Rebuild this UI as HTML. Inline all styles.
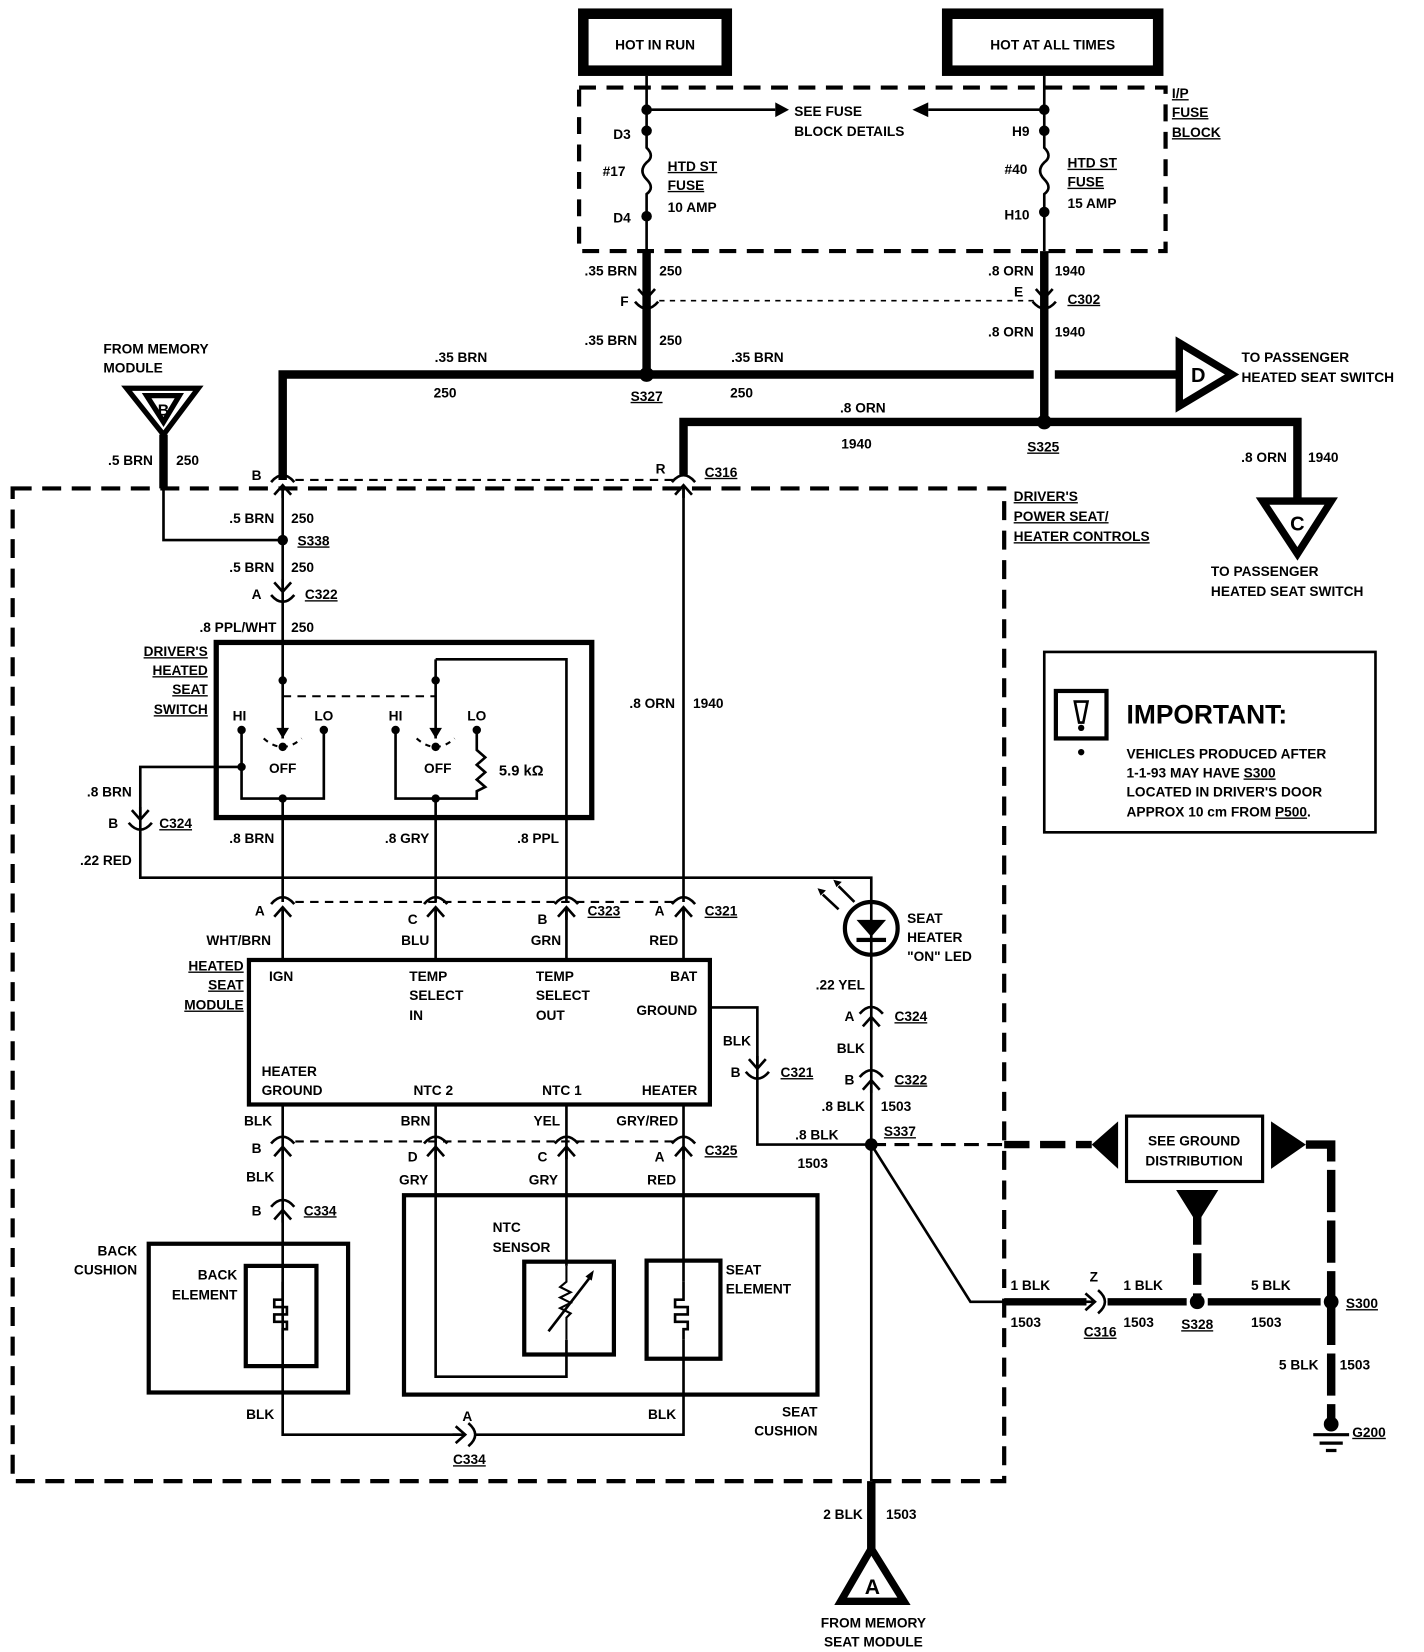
<!DOCTYPE html>
<html><head><meta charset="utf-8"><style>
html,body{margin:0;padding:0;background:#fff}
svg{display:block}
text{font-family:"Liberation Sans",sans-serif;font-weight:bold;font-size:13px;fill:#000}
.u{text-decoration:underline}
</style></head><body>
<svg width="1424" height="1652" viewBox="0 0 1350 1566" preserveAspectRatio="none" xmlns="http://www.w3.org/2000/svg">
<defs>
<g id="cn" fill="none" stroke="#000" stroke-width="2.5">
<path d="M-11,-1 Q0,-14 11,-1"/><path d="M-8,11 L0,2 L8,11"/><path d="M0,2 V14"/>
</g>
</defs>
<g fill="none" stroke="#000">
<rect x="553" y="13" width="136" height="54" stroke-width="10"/>
<rect x="898" y="13" width="200" height="54" stroke-width="10"/>
<rect x="549" y="83" width="556" height="155" stroke-width="4" stroke-dasharray="16,10"/>
<path d="M613,72 V140 q8,8 0,14 q-8,8 0,16 q8,8 0,14 V238" stroke-width="2.5"/>
<path d="M990,72 V140 q8,8 0,14 q-8,8 0,16 q8,8 0,14 V238" stroke-width="2.5"/>
<path d="M613,104 H735 M990,104 H880" stroke-width="2.5"/>
<path d="M613,238 V355 M990,238 V400 M268,455 V355 H980 M1000,355 H1115" stroke-width="8"/>
<path d="M648,450 V400 H1230 V475" stroke-width="8"/>
<path d="M155,412 V463" stroke-width="8"/>
<path d="M625,285 H980" stroke-width="1.5" stroke-dasharray="5,5"/>
<rect x="12" y="463" width="940" height="941" stroke-width="4" stroke-dasharray="18,10"/>
<path d="M280,455 H638" stroke-width="2" stroke-dasharray="8,6"/>
<g stroke-width="2.5">
<path d="M155,463 V512 H268"/>
<path d="M268,463 V700 M648,460 V855"/>
<path d="M413,625 H537 V855 M413,625 V700"/>
<path d="M229,692 V757 H307 V692 M268,757 V855 M229,727 H133 V832 H826 V855"/>
<path d="M375,692 V757 H452 V750 l8,-4 -8,-7 8,-7 -8,-7 8,-7 -8,-7 V692 M413,757 V855"/>
<path d="M268,860 V910 M413,860 V910 M537,860 V910 M648,860 V910"/>
<path d="M673,955 H718 V1085 H826"/>
<path d="M826,855 V1404"/>
<path d="M826,1085 L920,1234 H1030"/>
<path d="M268,1047 V1295 M413,1047 V1305 H537 V1270 M537,1047 V1200 M648,1047 V1215 M648,1270 V1360 H450 M436,1360 H268 V1295"/>
</g>
<path d="M268,660 H413" stroke-width="2" stroke-dasharray="8,6"/>
<path d="M280,855 H640" stroke-width="2" stroke-dasharray="8,6"/>
<path d="M280,1082 H640" stroke-width="2" stroke-dasharray="8,6"/>
<path d="M250,700 Q268,716 286,700 M395,700 Q413,716 431,700" stroke-width="2" stroke-dasharray="5,5"/>
<rect x="205" y="609" width="356" height="166" stroke-width="5"/>
<rect x="236" y="910" width="437" height="137" stroke-width="4"/>
<rect x="141" y="1179" width="189" height="141" stroke-width="4"/>
<rect x="233" y="1200" width="67" height="95" stroke-width="4"/>
<rect x="383" y="1133" width="392" height="189" stroke-width="4"/>
<rect x="497" y="1196" width="85" height="88" stroke-width="4"/>
<rect x="613" y="1195" width="70" height="93" stroke-width="4"/>
<path d="M268,1215 V1232 h-8 v7 h12 v7 h-12 v7 h12 v7 h-4 V1270" stroke-width="2.5"/>
<path d="M648,1215 V1232 h-8 v7 h12 v7 h-12 v7 h12 v7 h-4 V1270" stroke-width="2.5"/>
<path d="M520,1262 L560,1210" stroke-width="2.5"/>
<path d="M537,1200 V1215 l-6,5 10,5 -10,5 10,5 -10,5 10,5 -4,4 V1270" stroke-width="2"/>
<circle cx="826" cy="880" r="25" stroke-width="4"/>
<path d="M780,848 L795,862 M795,840 L810,855" stroke-width="2.5"/>
<path d="M826,1085 H952" stroke-width="3" stroke-dasharray="14,8"/>
<path d="M952,1085 H1035" stroke-width="7" stroke-dasharray="24,10"/>
<rect x="1068" y="1058" width="129" height="62" stroke-width="3"/>
<path d="M1238,1085 H1262 V1235 M1262,1235 V1345" stroke-width="8" stroke-dasharray="40,8"/>
<path d="M1135,1150 V1234" stroke-width="8" stroke-dasharray="30,8"/>
<path d="M952,1234 H1030 M1050,1234 H1125 M1145,1234 H1252" stroke-width="7"/>
<path d="M826,1404 V1470" stroke-width="8"/>
<path d="M1245,1360 H1279 M1251,1368 H1273 M1257,1375 H1267" stroke-width="3"/>
<rect x="990" y="618" width="314" height="171" stroke-width="2.5"/>
<rect x="1001" y="655" width="48" height="45" stroke-width="4"/>
<path d="M1019,665 h12 l-4,20 h-4 z" stroke-width="2.5"/>
<path d="M120,368 H188 L155,412 Z M139,375 H170 L155,400 Z" stroke-width="5"/>
<path d="M1118,325 L1168,355 L1118,385 Z" stroke-width="7"/>
<path d="M1197,475 H1262 L1230,525 Z" stroke-width="7"/>
<path d="M826,1468 L797,1518 H857 Z" stroke-width="7"/>
</g>
<g fill="#000">
<path d="M735,97 L748,104 L735,111 Z M880,97 L865,104 L880,111 Z"/>
<path d="M1060,1063 V1108 L1035,1085 Z M1205,1063 V1108 L1238,1085 Z M1115,1128 H1155 L1135,1160 Z"/>
<path d="M812,872 H840 L826,888 Z"/><rect x="812" y="889" width="28" height="4"/>
<path d="M775,842 l8,2 -5,5 z M790,834 l8,2 -5,5 z"/>
<circle cx="613" cy="104" r="5"/><circle cx="613" cy="124" r="5"/><circle cx="613" cy="205" r="5"/>
<circle cx="990" cy="104" r="5"/><circle cx="990" cy="124" r="5"/><circle cx="990" cy="201" r="5"/>
<circle cx="613" cy="355" r="7"/><circle cx="990" cy="400" r="7"/>
<circle cx="268" cy="512" r="5"/>
<circle cx="229" cy="692" r="4"/><circle cx="307" cy="692" r="4"/><circle cx="268" cy="708" r="4"/><circle cx="229" cy="727" r="4"/><circle cx="268" cy="757" r="4"/>
<circle cx="375" cy="692" r="4"/><circle cx="452" cy="692" r="4"/><circle cx="413" cy="708" r="4"/><circle cx="413" cy="757" r="4"/>
<circle cx="268" cy="645" r="4"/><circle cx="413" cy="645" r="4"/>
<path d="M262,690 l6,10 6,-10 z M407,690 l6,10 6,-10 z"/>
<circle cx="826" cy="1085" r="6"/><circle cx="1135" cy="1234" r="7"/><circle cx="1262" cy="1234" r="7"/><circle cx="1262" cy="1350" r="7"/>
<circle cx="1025" cy="713" r="3"/><circle cx="1025" cy="690" r="3"/>
<path d="M555,1210 l8,-6 -2,10 z"/>
</g>
<use href="#cn" x="613" y="285" transform="rotate(180 613 285)"/>
<use href="#cn" x="990" y="285" transform="rotate(180 990 285)"/>
<use href="#cn" x="268" y="458"/><use href="#cn" x="648" y="458"/>
<use href="#cn" x="268" y="563" transform="rotate(180 268 563)"/>
<use href="#cn" x="133" y="779" transform="rotate(180 133 779)"/>
<use href="#cn" x="268" y="858"/><use href="#cn" x="413" y="858"/><use href="#cn" x="537" y="858"/><use href="#cn" x="648" y="858"/>
<use href="#cn" x="826" y="962"/><use href="#cn" x="826" y="1022"/>
<use href="#cn" x="718" y="1015" transform="rotate(180 718 1015)"/>
<use href="#cn" x="268" y="1085"/><use href="#cn" x="413" y="1085"/><use href="#cn" x="537" y="1085"/><use href="#cn" x="648" y="1085"/>
<use href="#cn" x="268" y="1145"/>
<use href="#cn" x="443" y="1360" transform="rotate(90 443 1360)"/>
<use href="#cn" x="1040" y="1234" transform="rotate(90 1040 1234)"/>
<text x="621" y="47" text-anchor="middle">HOT IN RUN</text>
<text x="998" y="47" text-anchor="middle">HOT AT ALL TIMES</text>
<text x="753" y="110">SEE FUSE</text><text x="753" y="129">BLOCK DETAILS</text>
<text x="598" y="132" text-anchor="end">D3</text><text x="593" y="167" text-anchor="end">#17</text><text x="598" y="211" text-anchor="end">D4</text>
<text x="633" y="162" class="u">HTD ST</text><text x="633" y="180" class="u">FUSE</text><text x="633" y="201">10 AMP</text>
<text x="976" y="129" text-anchor="end">H9</text><text x="974" y="165" text-anchor="end">#40</text><text x="976" y="208" text-anchor="end">H10</text>
<text x="1012" y="159" class="u">HTD ST</text><text x="1012" y="177" class="u">FUSE</text><text x="1012" y="197">15 AMP</text>
<text x="1111" y="93" class="u">I/P</text><text x="1111" y="111" class="u">FUSE</text><text x="1111" y="130" class="u">BLOCK</text>
<text x="604" y="261" text-anchor="end">.35 BRN</text><text x="625" y="261">250</text>
<text x="596" y="290" text-anchor="end">F</text>
<text x="604" y="327" text-anchor="end">.35 BRN</text><text x="625" y="327">250</text>
<text x="980" y="261" text-anchor="end">.8 ORN</text><text x="1000" y="261">1940</text>
<text x="970" y="281" text-anchor="end">E</text><text x="1012" y="288" class="u">C302</text>
<text x="980" y="319" text-anchor="end">.8 ORN</text><text x="1000" y="319">1940</text>
<text x="98" y="335">FROM MEMORY</text><text x="98" y="353">MODULE</text>
<text x="155" y="394" text-anchor="middle" style="font-size:15px">B</text>
<text x="145" y="441" text-anchor="end">.5 BRN</text><text x="167" y="441">250</text>
<text x="437" y="343" text-anchor="middle">.35 BRN</text><text x="422" y="377" text-anchor="middle">250</text>
<text x="718" y="343" text-anchor="middle">.35 BRN</text><text x="703" y="377" text-anchor="middle">250</text>
<text x="613" y="380" text-anchor="middle" class="u">S327</text>
<text x="1136" y="362" text-anchor="middle" style="font-size:19px">D</text>
<text x="1177" y="343">TO PASSENGER</text><text x="1177" y="362">HEATED SEAT SWITCH</text>
<text x="818" y="391" text-anchor="middle">.8 ORN</text><text x="812" y="425" text-anchor="middle">1940</text>
<text x="989" y="428" text-anchor="middle" class="u">S325</text>
<text x="1220" y="438" text-anchor="end">.8 ORN</text><text x="1240" y="438">1940</text>
<text x="1230" y="503" text-anchor="middle" style="font-size:19px">C</text>
<text x="1148" y="546">TO PASSENGER</text><text x="1148" y="565">HEATED SEAT SWITCH</text>
<text x="248" y="455" text-anchor="end">B</text><text x="631" y="449" text-anchor="end">R</text><text x="668" y="452" class="u">C316</text>
<text x="961" y="475" class="u">DRIVER'S</text><text x="961" y="494" class="u">POWER SEAT/</text><text x="961" y="513" class="u">HEATER CONTROLS</text>
<text x="260" y="496" text-anchor="end">.5 BRN</text><text x="276" y="496">250</text><text x="282" y="517" class="u">S338</text>
<text x="260" y="542" text-anchor="end">.5 BRN</text><text x="276" y="542">250</text>
<text x="248" y="568" text-anchor="end">A</text><text x="289" y="568" class="u">C322</text>
<text x="262" y="599" text-anchor="end">.8 PPL/WHT</text><text x="276" y="599">250</text>
<text x="197" y="622" text-anchor="end" class="u">DRIVER'S</text><text x="197" y="640" text-anchor="end" class="u">HEATED</text><text x="197" y="658" text-anchor="end" class="u">SEAT</text><text x="197" y="677" text-anchor="end" class="u">SWITCH</text>
<text x="227" y="683" text-anchor="middle">HI</text><text x="307" y="683" text-anchor="middle">LO</text><text x="268" y="733" text-anchor="middle">OFF</text>
<text x="375" y="683" text-anchor="middle">HI</text><text x="452" y="683" text-anchor="middle">LO</text><text x="415" y="733" text-anchor="middle">OFF</text>
<text x="473" y="735" style="font-size:14px">5.9 kΩ</text>
<text x="125" y="755" text-anchor="end">.8 BRN</text><text x="112" y="785" text-anchor="end">B</text><text x="151" y="785" class="u">C324</text>
<text x="125" y="820" text-anchor="end">.22 RED</text>
<text x="260" y="799" text-anchor="end">.8 BRN</text><text x="407" y="799" text-anchor="end">.8 GRY</text><text x="530" y="799" text-anchor="end">.8 PPL</text>
<text x="640" y="671" text-anchor="end">.8 ORN</text><text x="657" y="671">1940</text>
<text x="251" y="868" text-anchor="end">A</text><text x="396" y="876" text-anchor="end">C</text><text x="519" y="876" text-anchor="end">B</text><text x="630" y="868" text-anchor="end">A</text>
<text x="557" y="868" class="u">C323</text><text x="668" y="868" class="u">C321</text>
<text x="257" y="896" text-anchor="end">WHT/BRN</text><text x="407" y="896" text-anchor="end">BLU</text><text x="532" y="896" text-anchor="end">GRN</text><text x="643" y="896" text-anchor="end">RED</text>
<text x="231" y="920" text-anchor="end" class="u">HEATED</text><text x="231" y="938" text-anchor="end" class="u">SEAT</text><text x="231" y="957" text-anchor="end" class="u">MODULE</text>
<text x="255" y="930">IGN</text>
<text x="388" y="930">TEMP</text><text x="388" y="948">SELECT</text><text x="388" y="967">IN</text>
<text x="508" y="930">TEMP</text><text x="508" y="948">SELECT</text><text x="508" y="967">OUT</text>
<text x="661" y="930" text-anchor="end">BAT</text><text x="661" y="962" text-anchor="end">GROUND</text>
<text x="248" y="1020">HEATER</text><text x="248" y="1038">GROUND</text>
<text x="392" y="1038">NTC 2</text><text x="514" y="1038">NTC 1</text><text x="661" y="1038" text-anchor="end">HEATER</text>
<text x="860" y="875">SEAT</text><text x="860" y="893">HEATER</text><text x="860" y="911">"ON" LED</text>
<text x="820" y="938" text-anchor="end">.22 YEL</text>
<text x="810" y="968" text-anchor="end">A</text><text x="848" y="968" class="u">C324</text>
<text x="820" y="998" text-anchor="end">BLK</text>
<text x="810" y="1028" text-anchor="end">B</text><text x="848" y="1028" class="u">C322</text>
<text x="820" y="1053" text-anchor="end">.8 BLK</text><text x="835" y="1053">1503</text>
<text x="795" y="1080" text-anchor="end">.8 BLK</text><text x="785" y="1107" text-anchor="end">1503</text><text x="838" y="1077" class="u">S337</text>
<text x="712" y="991" text-anchor="end">BLK</text><text x="702" y="1021" text-anchor="end">B</text><text x="740" y="1021" class="u">C321</text>
<text x="1132" y="1086" text-anchor="middle">SEE GROUND</text><text x="1132" y="1105" text-anchor="middle">DISTRIBUTION</text>
<text x="958" y="1223">1 BLK</text><text x="958" y="1258">1503</text>
<text x="1037" y="1215" text-anchor="middle">Z</text><text x="1043" y="1267" text-anchor="middle" class="u">C316</text>
<text x="1065" y="1223">1 BLK</text><text x="1065" y="1258">1503</text>
<text x="1135" y="1260" text-anchor="middle" class="u">S328</text>
<text x="1186" y="1223">5 BLK</text><text x="1186" y="1258">1503</text>
<text x="1276" y="1240" class="u">S300</text>
<text x="1250" y="1298" text-anchor="end">5 BLK</text><text x="1270" y="1298">1503</text>
<text x="1282" y="1362" class="u">G200</text>
<text x="258" y="1067" text-anchor="end">BLK</text><text x="408" y="1067" text-anchor="end">BRN</text><text x="531" y="1067" text-anchor="end">YEL</text><text x="643" y="1067" text-anchor="end">GRY/RED</text>
<text x="248" y="1093" text-anchor="end">B</text><text x="396" y="1101" text-anchor="end">D</text><text x="519" y="1101" text-anchor="end">C</text><text x="630" y="1101" text-anchor="end">A</text>
<text x="668" y="1095" class="u">C325</text>
<text x="260" y="1120" text-anchor="end">BLK</text><text x="406" y="1123" text-anchor="end">GRY</text><text x="529" y="1123" text-anchor="end">GRY</text><text x="641" y="1123" text-anchor="end">RED</text>
<text x="248" y="1152" text-anchor="end">B</text><text x="288" y="1152" class="u">C334</text>
<text x="130" y="1190" text-anchor="end">BACK</text><text x="130" y="1208" text-anchor="end">CUSHION</text>
<text x="225" y="1213" text-anchor="end">BACK</text><text x="225" y="1232" text-anchor="end">ELEMENT</text>
<text x="467" y="1168">NTC</text><text x="467" y="1187">SENSOR</text>
<text x="688" y="1208">SEAT</text><text x="688" y="1226">ELEMENT</text>
<text x="775" y="1343" text-anchor="end">SEAT</text><text x="775" y="1361" text-anchor="end">CUSHION</text>
<text x="260" y="1345" text-anchor="end">BLK</text><text x="641" y="1345" text-anchor="end">BLK</text>
<text x="443" y="1347" text-anchor="middle">A</text><text x="445" y="1388" text-anchor="middle" class="u">C334</text>
<text x="818" y="1440" text-anchor="end">2 BLK</text><text x="840" y="1440">1503</text>
<text x="827" y="1511" text-anchor="middle" style="font-size:20px">A</text>
<text x="828" y="1543" text-anchor="middle">FROM MEMORY</text><text x="828" y="1561" text-anchor="middle">SEAT MODULE</text>
<text x="1068" y="686" style="font-size:25px">IMPORTANT:</text>
<text x="1068" y="719">VEHICLES PRODUCED AFTER</text>
<text x="1068" y="737">1-1-93 MAY HAVE <tspan class="u">S300</tspan></text>
<text x="1068" y="755">LOCATED IN DRIVER'S DOOR</text>
<text x="1068" y="774">APPROX 10 cm FROM <tspan class="u">P500</tspan>.</text>
</svg>
</body></html>
